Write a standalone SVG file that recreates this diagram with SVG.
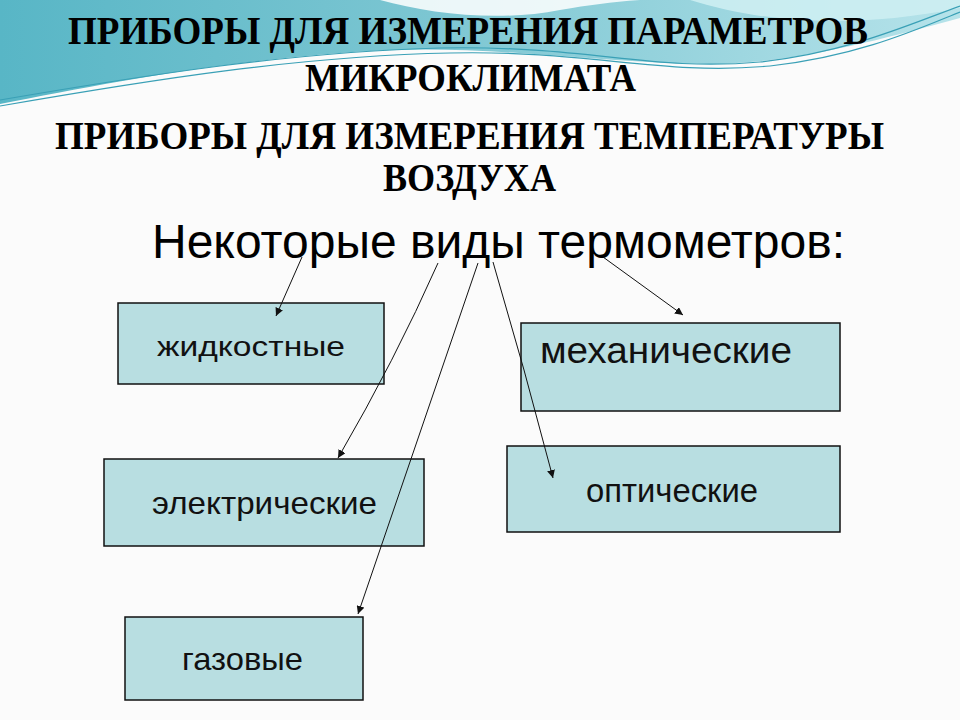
<svg xmlns="http://www.w3.org/2000/svg" width="960" height="720" viewBox="0 0 960 720">
  <style>
    .title { font-family: "Liberation Serif", "Times New Roman", serif; font-weight: bold; font-size: 41px; fill: #000; }
    .head { font-family: "Liberation Sans", Arial, sans-serif; font-size: 48px; fill: #000; }
    .box { fill: #b8dee1; stroke: #111; stroke-width: 1.5; }
    .lbl { font-family: "Liberation Sans", Arial, sans-serif; fill: #111; }
    .conn { stroke: #111; stroke-width: 1; fill: none; marker-end: url(#ah); }
    .wline { fill: none; stroke: #3aa0b6; stroke-width: 1.2; }
  </style>
  <defs>
    <marker id="ah" viewBox="0 0 10 10" refX="10" refY="5" markerWidth="8" markerHeight="8" markerUnits="userSpaceOnUse" orient="auto">
      <path d="M0,0 L10,5 L0,10 Z" fill="#111"/>
    </marker>
    <linearGradient id="tealg" x1="0" y1="0" x2="1" y2="0">
      <stop offset="0" stop-color="#58b6c6"/>
      <stop offset="0.45" stop-color="#7cc6d2"/>
      <stop offset="1" stop-color="#b6e3ea"/>
    </linearGradient>
  </defs>

  <rect x="0" y="0" width="960" height="720" fill="#fbfbfb"/>

  <g id="background">
    <path d="M0,0 L960,0 L960,18 C 880,40 790,64 710,64 C 610,64 500,46 390,50 C 250,56 110,82 0,104 Z" fill="url(#tealg)"/>
    <path d="M380,0 C 430,14 500,22 560,10 C 590,5 610,2 640,0 Z" fill="#ffffff" opacity="0.85"/>
    <path d="M690,0 C 760,22 850,30 960,8 L960,0 Z" fill="#cdeef2" opacity="0.9"/>
    <path class="wline" d="M0,100 C 140,76 290,52 440,48 C 590,45 650,72 760,62 C 850,52 910,24 960,6"/>
    <path class="wline" d="M0,106 C 150,80 300,56 450,53 C 590,50 660,76 770,66 C 860,56 920,28 960,12"/>
  </g>

  <g id="titles">
    <text class="title" x="68" y="44" textLength="800" lengthAdjust="spacingAndGlyphs">ПРИБОРЫ ДЛЯ ИЗМЕРЕНИЯ ПАРАМЕТРОВ</text>
    <text class="title" x="305" y="91" textLength="331" lengthAdjust="spacingAndGlyphs">МИКРОКЛИМАТА</text>
    <text class="title" x="55" y="149" textLength="829" lengthAdjust="spacingAndGlyphs">ПРИБОРЫ ДЛЯ ИЗМЕРЕНИЯ ТЕМПЕРАТУРЫ</text>
    <text class="title" x="383" y="191" textLength="173" lengthAdjust="spacingAndGlyphs">ВОЗДУХА</text>
  </g>

  <g id="heading">
    <text class="head" x="152" y="258" textLength="693" lengthAdjust="spacingAndGlyphs">Некоторые виды термометров:</text>
  </g>

  <g id="node-liquid">
    <rect class="box" x="118" y="303" width="266" height="81"/>
    <text class="lbl" x="157" y="356" font-size="27" textLength="188" lengthAdjust="spacingAndGlyphs">жидкостные</text>
  </g>
  <g id="node-mechanical">
    <rect class="box" x="521" y="323" width="319" height="88"/>
    <text class="lbl" x="540" y="363" font-size="37" textLength="252" lengthAdjust="spacingAndGlyphs">механические</text>
  </g>
  <g id="node-electric">
    <rect class="box" x="104" y="459" width="320" height="87"/>
    <text class="lbl" x="152" y="514" font-size="32" textLength="225" lengthAdjust="spacingAndGlyphs">электрические</text>
  </g>
  <g id="node-optical">
    <rect class="box" x="507" y="446" width="333" height="86"/>
    <text class="lbl" x="586" y="502" font-size="33" textLength="172" lengthAdjust="spacingAndGlyphs">оптические</text>
  </g>
  <g id="node-gas">
    <rect class="box" x="125" y="617" width="238" height="83"/>
    <text class="lbl" x="182" y="670" font-size="32" textLength="121" lengthAdjust="spacingAndGlyphs">газовые</text>
  </g>

  <g id="connectors">
    <path class="conn" d="M302,257 L276,316"/>
    <path class="conn" d="M438,263 Q 395,360 338,458"/>
    <path class="conn" d="M478,263 L358,614"/>
    <path class="conn" d="M493,262 Q 525,370 553,478"/>
    <path class="conn" d="M603,257 L683,315"/>
  </g>
</svg>
